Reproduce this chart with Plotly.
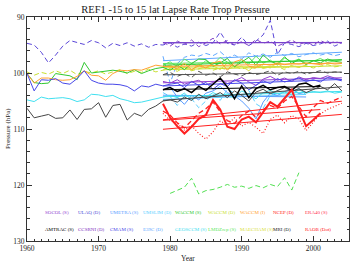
import numpy as np
import plotly.graph_objects as go

# ---------------- data ----------------
years_ref1 = list(range(1960, 2005))      # 45 yrs
years_late = list(range(1979, 2005))      # 26 yrs
years_late_short = list(range(1979, 2000))  # 21 yrs
years_era = list(range(1979, 2002))       # 23 yrs
years_green_low = list(range(1980, 1999))  # 19 yrs

ulaq_d = [94.7, 95.0, 96.3, 98.2, 96.8, 95.2, 94.2, 94.6, 94.9, 94.2,
          94.6, 95.5, 94.7, 95.1, 94.6, 95.2, 94.8, 95.4, 94.9, 95.0,
          94.6, 95.4, 94.8, 95.2, 94.5, 95.1, 94.6, 92.7, 94.7, 95.0,
          93.6, 95.1, 94.3, 93.2, 90.6, 96.7, 94.6, 94.9, 95.3, 94.7,
          95.1, 94.8, 94.3, 95.2, 94.6]
cmam_s = [100.1, 103.2, 101.2, 101.3, 101.0, 101.8, 102.0, 101.0, 99.6, 101.3,
          101.8, 102.0, 102.0, 102.1, 102.4, 103.2, 102.3, 102.5, 102.0, 102.3,
          102.0, 101.8, 102.6, 101.5, 102.2, 101.7, 102.9, 101.9, 102.4, 101.2,
          101.8, 103.0, 102.2, 101.4, 101.9, 101.0, 101.6, 101.3, 100.9, 101.5,
          101.2, 101.6, 100.8, 101.1, 101.4]
waccm_s = [100.1, 101.7, 101.9, 101.8, 100.1, 100.3, 100.5, 101.2, 98.1, 100.0,
           99.8, 99.6, 99.5, 99.7, 100.0, 99.4, 100.1, 99.6, 99.2, 99.0,
           99.5, 98.6, 99.4, 98.3, 97.5, 97.6, 98.8, 98.2, 97.4, 98.9,
           98.0, 97.2, 98.6, 96.8, 97.9, 98.4, 97.1, 98.3, 97.6, 98.5,
           97.8, 98.2, 97.5, 97.9, 98.1]
waccm_i = [100.1, 101.8, 100.9, 100.9, 101.2, 101.3, 101.2, 100.6, 99.6, 100.4,
           100.5, 101.3, 100.1, 99.5, 99.6, 99.4, 99.5, 99.0, 98.6, 98.8,
           98.9, 99.2, 98.3, 99.4, 98.7, 99.1, 98.2, 97.9, 99.5, 98.0,
           97.6, 98.8, 99.0, 98.4, 98.6, 98.2, 98.5, 98.3, 98.4, 98.2,
           98.3, 98.5, 98.2, 98.4, 98.3]
waccm_d = [99.8, 100.4, 99.9, 100.2, 99.6, 100.1, 99.5, 100.3, 99.7, 100.0,
           99.6, 100.2, 99.8, 99.4, 100.1, 99.7, 99.9, 99.3, 99.8, 99.5,
           99.2, 99.7, 99.0, 99.6, 99.3, 98.9, 99.5, 99.1, 99.4, 98.8,
           99.3, 98.9, 99.2, 98.7, 99.1, 98.8, 99.4, 98.6, 99.0, 98.7,
           99.1, 98.8, 98.5, 98.9, 98.7]
geosccm_s = [104.8, 105.1, 104.3, 104.6, 104.5, 104.4, 104.6, 105.1, 104.8, 103.8,
             103.9, 104.2, 104.0, 104.6, 104.9, 105.3, 105.2, 104.9, 104.6, 104.3,
             104.0, 104.4, 103.6, 104.8, 103.9, 104.3, 103.5, 104.1, 103.7, 104.5,
             103.2, 103.8, 104.6, 103.5, 103.1, 103.7, 103.4, 103.9, 103.0, 103.6,
             103.3, 103.5, 103.2, 103.6, 103.4]
amtrac_s = [106.3, 108.0, 107.7, 107.4, 108.1, 108.0, 106.6, 108.3, 106.5, 106.4,
            105.3, 107.9, 105.8, 105.6, 108.4, 107.2, 107.7, 106.5, 105.9, 105.0,
            104.8, 105.2, 104.3, 104.9, 103.8, 104.6, 104.1, 103.5, 104.4, 103.2,
            104.0, 105.0, 103.4, 102.9, 103.7, 103.1, 102.6, 103.3, 102.8, 103.5,
            102.9, 102.4, 103.0, 101.9, 103.2]

socol_s = [101.5, 101.8, 101.2, 102.0, 101.6, 101.3, 102.1, 101.7, 101.0, 101.9,
           101.4, 100.8, 101.6, 102.2, 101.1, 100.6, 101.3, 100.9, 101.5, 100.7,
           101.2, 100.8, 101.0, 100.5, 100.9, 101.2]
ccsrni_d = [94.5, 95.2, 94.3, 94.9, 94.1, 95.3, 94.6, 93.8, 94.8, 94.2,
            95.0, 94.4, 95.1, 94.0, 94.7, 94.3, 95.2, 94.6, 94.1, 94.9,
            94.5, 95.0, 94.2, 94.8, 94.4, 94.7]
e39c_d = [97.0, 101.8, 98.3, 97.2, 96.8, 97.0, 96.5, 96.9, 96.2, 97.3,
          96.8, 97.5, 96.4, 97.0, 96.6, 97.2, 96.3, 96.9, 96.5, 97.1,
          96.7, 96.4, 96.8, 96.5, 96.9, 96.6]
lmdz_s = [98.6, 98.0, 98.9, 97.5, 98.3, 98.8, 97.8, 98.5, 97.2, 98.1,
          98.9, 97.6, 98.4, 97.0, 98.2, 97.7, 98.6, 97.3, 98.0, 97.5,
          98.3, 97.9, 97.4, 98.1, 97.8, 97.6]
mri_d = [100.3, 99.9, 100.6, 100.1, 100.8, 99.7, 100.4, 100.0, 100.7, 99.8,
         100.2, 100.5, 99.9, 100.3, 100.0, 99.6, 100.4, 99.8, 100.1, 99.7,
         100.2, 99.9, 99.6, 100.0, 99.8, 99.9]
ncep_d = [106.8, 107.5, 108.9, 109.8, 108.5, 107.2, 106.4, 105.2, 106.9, 108.5,
          109.0, 107.6, 106.8, 107.9, 106.5, 105.8, 106.3, 105.0, 104.2, 106.0,
          107.8, 106.2, 104.9, 105.4, 104.8, 104.3]
raob_dot = [107.2, 108.5, 109.0, 110.2, 109.4, 110.8, 111.8, 110.5, 108.6, 109.2,
            108.0, 109.5, 108.8, 109.7, 110.8, 108.3, 107.5, 108.9, 107.6, 108.2,
            110.3, 108.7, 107.3, 106.5, 106.0, 105.4]
umslim_d = [103.5, 104.2, 105.8, 103.9, 104.6, 106.2, 105.0, 103.8, 104.9, 102.9,
            103.6, 104.3, 103.1, 105.5, 106.3, 104.0, 103.4, 104.7, 103.2, 102.8,
            103.9]
umetra_s = [103.0, 102.5, 104.3, 105.6, 104.0, 104.8, 103.6, 103.2, 102.4, 103.5,
            104.1, 105.0, 106.3, 108.2, 105.2, 103.6, 104.0, 103.3, 102.9, 103.7,
            103.4]
maecham_s = [99.0, 98.6, 99.3, 98.9, 99.5, 98.4, 99.1, 98.7, 99.4, 98.2,
             99.0, 98.8, 99.6, 98.5, 99.2, 98.9, 98.3, 99.1, 98.7, 99.0,
             98.6]
mri_s = [103.0, 102.6, 103.3, 102.8, 103.5, 102.4, 103.1, 102.0, 100.9, 102.5,
         104.6, 102.3, 104.4, 102.8, 102.2, 103.0, 102.6, 102.4, 103.1, 102.0,
         101.8, 102.5, 102.2]
era40_s = [105.5, 108.0, 109.5, 110.8, 109.6, 108.2, 107.5, 104.8, 106.5, 109.6,
           110.0, 108.3, 107.8, 108.8, 107.0, 105.2, 106.0, 104.5, 103.0, 106.5,
           109.5, 108.4, 107.2]
green_low_d = [121.5, 120.9, 120.4, 118.8, 121.6, 121.0, 120.8, 120.4, 119.9, 120.4,
               120.2, 120.6, 120.1, 120.5, 119.9, 120.3, 118.7, 120.9, 117.8]

legend_row1 = ["SOCOL (S)", "ULAQ (D)", "UMETRA (S)", "UMSLIM (D)", "WACCM (S)",
               "WACCM (D)", "WACCM (I)", "NCEP (D)", "ERA40 (S)"]
legend_row2 = ["AMTRAC (S)", "CCSRNI (D)", "CMAM (S)", "E39C (D)", "GEOSCCM (S)",
               "LMDZrep (S)", "MAECHAM (S)", "MRI (D)", "RAOB (Dot)"]
colors_row1 = ["#9040d0", "#5050d8", "#5a9cff", "#60d0ff", "#30c830",
               "#c8e030", "#ffa030", "#ff2020", "#ff3050"]
colors_row2 = ["#000000", "#8030c0", "#4848e8", "#60a8ff", "#40e0f0",
               "#60e860", "#d8e040", "#202020", "#ff2020"]

DASH = "5px,3px"
DOT = "1px,2px"

series = [
    # name, years, values, color, dash, width, trend
    ("ULAQ (D)", years_ref1, ulaq_d, "#5a46d8", DASH, 1, True),
    ("CCSRNI (D)", years_late, ccsrni_d, "#8040c8", DASH, 1, True),
    ("E39C (D)", years_late, e39c_d, "#60a8ff", DASH, 1, True),
    ("WACCM (D)", years_ref1, waccm_d, "#c8e030", DASH, 1, True),
    ("MRI (D)", years_late, mri_d, "#505050", DASH, 1, True),
    ("UMSLIM (D)", years_late_short, umslim_d, "#60d0ff", DASH, 1, True),
    ("LMDZrep (S)", years_late, lmdz_s, "#60e860", None, 1, True),
    ("MAECHAM (S)", years_late_short, maecham_s, "#d8e040", None, 1, True),
    ("WACCM (S)", years_ref1, waccm_s, "#30c830", None, 1, True),
    ("WACCM (I)", years_ref1, waccm_i, "#ffa030", None, 1, True),
    ("SOCOL (S)", years_late, socol_s, "#9040d0", None, 1, True),
    ("CMAM (S)", years_ref1, cmam_s, "#4848e8", None, 1, True),
    ("UMETRA (S)", years_late_short, umetra_s, "#5a9cff", None, 1, True),
    ("GEOSCCM (S)", years_ref1, geosccm_s, "#40e0f0", None, 1, True),
    ("AMTRAC (S)", years_ref1, amtrac_s, "#454545", None, 1, True),
    ("MRI (S)", years_era, mri_s, "#000000", None, 1.5, True),
    ("RAOB (Dot)", years_late, raob_dot, "#ff2020", DOT, 1.2, True),
    ("NCEP (D)", years_late, ncep_d, "#ff2020", DASH, 1.3, True),
    ("ERA40 (S)", years_era, era40_s, "#ff2020", None, 2, True),
    ("green low (D)", years_green_low, green_low_d, "#50e050", DASH, 1, False),
]

fig = go.Figure()
for name, yrs, vals, col, dash, w, trend in series:
    line = dict(color=col, width=w)
    if dash:
        line["dash"] = dash
    fig.add_trace(go.Scatter(x=yrs, y=vals, mode="lines", line=line,
                             name=name, showlegend=False, hoverinfo="skip"))
    if trend:
        yy = np.array(yrs, dtype=float)
        vv = np.array(vals, dtype=float)
        m = yy >= 1979
        coef = np.polyfit(yy[m], vv[m], 1)
        xs = [yy[m][0], yy[m][-1]]
        fig.add_trace(go.Scatter(x=xs, y=list(np.polyval(coef, xs)), mode="lines",
                                 line=dict(color=col, width=1), showlegend=False,
                                 hoverinfo="skip"))

FONT = "Liberation Serif, Times New Roman, serif"
annotations = []
for row, (labels, cols) in enumerate([(legend_row1, colors_row1), (legend_row2, colors_row2)]):
    for i, (lab, c) in enumerate(zip(labels, cols)):
        annotations.append(dict(
            x=0.05 + i * 0.101, y=0.127 if row == 0 else 0.051,
            xref="paper", yref="paper", xanchor="left", yanchor="middle",
            text=lab, showarrow=False, font=dict(family=FONT, size=5, color=c)))
annotations.append(dict(x=0.5, y=-17 / 224, xref="paper", yref="paper",
                        xanchor="center", yanchor="middle",
                        text="Year", showarrow=False,
                        font=dict(family=FONT, size=7.5, color="#222")))
annotations.append(dict(x=-(27 - 8) / 322, y=0.5, xref="paper", yref="paper",
                        xanchor="center", yanchor="middle",
                        text="Pressure (hPa)", textangle=-90, showarrow=False,
                        font=dict(family=FONT, size=7, color="#222")))

axis_common = dict(showline=True, linecolor="#333", linewidth=1, mirror="allticks",
                   ticks="inside", tickcolor="#333", ticklen=5, tickwidth=1,
                   showgrid=False, zeroline=False,
                   tickfont=dict(family=FONT, size=7.5, color="#222"))

fig.update_layout(
    width=351, height=265,
    margin=dict(l=27, r=2, t=17, b=24),
    paper_bgcolor="white", plot_bgcolor="white",
    title=dict(text="REF1 -15 to 15 lat Lapse Rate Trop Pressure",
               x=0.5, xanchor="center", y=1 - 9 / 265, yanchor="middle",
               xref="container", yref="container",
               font=dict(family=FONT, size=10.5, color="#222")),
    xaxis=dict(range=[1960, 2005], tickvals=[1960, 1970, 1980, 1990, 2000],
               minor=dict(dtick=1, tick0=1960, ticks="inside", ticklen=2.5,
                          tickcolor="#333"),
               **axis_common),
    yaxis=dict(range=[130, 90], tickvals=[90, 100, 110, 120, 130],
               minor=dict(dtick=2, tick0=90, ticks="inside", ticklen=2.5,
                          tickcolor="#333"),
               **axis_common),
    annotations=annotations,
)

fig.write_html("out.html")
